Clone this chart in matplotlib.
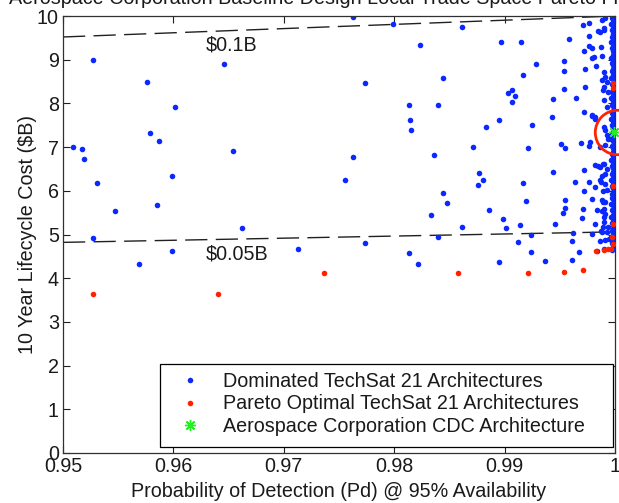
import matplotlib
matplotlib.use("Agg")
import matplotlib.pyplot as plt
from matplotlib.lines import Line2D
from matplotlib.patches import Rectangle

plt.rcParams['font.family'] = ['Liberation Sans', 'DejaVu Sans']

# ---------------- data ----------------
title = "Aerospace Corporation Baseline Design Local Trade Space Pareto Frontier"
x_label = "Probability of Detection (Pd) @ 95% Availability"
y_label = "10 Year Lifecycle Cost ($B)"
x_ticks = [0.95, 0.96, 0.97, 0.98, 0.99, 1.0]
x_tick_labels = ["0.95", "0.96", "0.97", "0.98", "0.99", "1"]
y_ticks = [0, 1, 2, 3, 4, 5, 6, 7, 8, 9, 10]
legend_labels = ["Dominated TechSat 21 Architectures",
                 "Pareto Optimal TechSat 21 Architectures",
                 "Aerospace Corporation CDC Architecture"]

# dominated architectures (scattered)
dom_x = [0.9509, 0.9517, 0.9519, 0.9527, 0.9527, 0.9531, 0.9547, 0.9569, 0.9576, 0.9579,
         0.9585, 0.9587, 0.9599, 0.9599, 0.9601, 0.9646, 0.9654, 0.9662, 0.9713,
         0.9755, 0.9763, 0.9763, 0.9774, 0.9774, 0.9799, 0.9813, 0.9813, 0.9814, 0.9815,
         0.9822, 0.9823, 0.9833, 0.9836, 0.9840, 0.9840, 0.9844, 0.9844, 0.9848, 0.9861,
         0.9861, 0.9871, 0.9876, 0.9877, 0.9880, 0.9883, 0.9886, 0.9895, 0.9895, 0.9897,
         0.9899, 0.9901, 0.9903, 0.9907, 0.9907, 0.9909, 0.9912, 0.9914, 0.9915, 0.9917,
         0.9917, 0.9919, 0.9921, 0.9924, 0.9924, 0.9925, 0.9928, 0.9937,
         0.9971, 0.9976, 0.9958, 0.9976, 0.9986, 0.9990, 0.9976, 0.9972, 0.9954, 0.9979,
         0.9988, 0.9954, 0.9973, 0.9983, 0.9954, 0.9973, 0.9989, 0.9944, 0.9965, 0.9943,
         0.9972, 0.9979, 0.9982, 0.9951, 0.9955, 0.9969, 0.9977, 0.9976, 0.9944, 0.9972,
         0.9985, 0.9989, 0.9964, 0.9976, 0.9986, 0.9987, 0.9972, 0.9989, 0.9955, 0.9955,
         0.9953, 0.9971, 0.9989, 0.9970, 0.9988, 0.9990, 0.9946, 0.9989, 0.9962, 0.9961,
         0.9987, 0.9979, 0.9988, 0.9993, 0.9986, 0.9991, 0.9995, 0.9967, 0.9961,
         0.9988, 0.9991, 0.9985, 0.9990, 0.9979, 0.9987, 0.9981, 0.9990, 0.9991, 0.9988,
         0.9993, 0.9990, 0.9994, 0.9990, 0.9993, 0.9979, 0.9982, 0.9990, 0.9991, 0.9993,
         0.9994, 0.9986, 0.9991, 0.9982, 0.9986, 0.9990, 0.9993, 0.9988, 0.9991, 0.9982,
         0.9991, 0.9993, 0.9979, 0.9988, 0.9991, 0.9984, 0.9990, 0.9991, 0.9982, 0.9990,
         0.9994, 0.9984, 0.9990]
dom_y = [7.01, 6.95, 6.72, 8.99, 4.92, 6.17, 5.53, 4.33, 8.49, 7.33,
         5.67, 7.13, 6.34, 4.63, 7.91, 8.90, 6.92, 5.14, 4.66,
         6.25, 9.98, 6.78, 8.47, 4.80, 9.81, 7.97, 4.57, 7.62, 7.39,
         4.33, 9.33, 5.44, 6.83, 7.97, 4.95, 8.58, 5.96, 5.73, 9.74,
         5.18, 7.01, 6.14, 6.40, 6.25, 7.45, 5.56, 7.62, 4.36, 9.40,
         5.35, 5.14, 8.23, 8.30, 8.03, 8.17, 4.83, 5.21, 9.40, 8.64,
         6.17, 5.76, 6.98, 4.98, 4.59, 7.50, 8.90, 4.40,
         9.79, 9.83, 9.48, 9.54, 9.63, 9.69, 9.31, 9.19, 8.98, 9.04,
         9.08, 8.73, 8.78, 8.85, 8.34, 8.37, 8.30, 8.09, 8.13, 7.68,
         7.80, 7.72, 7.68, 7.06, 6.99, 7.10, 7.12, 7.03, 6.43, 6.48,
         6.56, 6.62, 6.20, 6.19, 6.24, 6.19, 5.99, 5.99, 5.79, 5.60,
         5.50, 5.59, 5.75, 5.38, 5.53, 5.41, 5.23, 5.18, 5.03, 4.86,
         5.09, 5.02, 5.05, 5.05, 4.86, 4.88, 4.89, 4.59, 4.42,
         9.91, 9.95, 9.66, 9.72, 9.26, 9.30, 9.07, 8.72, 8.61, 8.53,
         8.49, 8.38, 8.26, 8.07, 7.92, 7.73, 7.65, 7.46, 7.39, 7.27,
         7.19, 7.00, 7.04, 6.58, 6.54, 6.62, 6.51, 6.35, 6.39, 6.08,
         6.16, 6.01, 5.82, 5.78, 5.74, 5.55, 5.59, 5.47, 5.25, 5.28,
         5.17, 4.63, 4.67]

# dominated architectures packed along Pd ~ 1
col_x = [0.9998, 0.9997, 0.9999, 0.9998, 0.9996, 0.9999, 0.9998, 0.9997, 0.9999, 0.9998,
         0.9997, 0.9999, 0.9998, 0.9996, 0.9998, 0.9999, 0.9997, 0.9998, 0.9999, 0.9998,
         0.9996, 0.9998, 0.9999, 0.9997, 0.9998, 0.9999, 0.9998, 0.9997, 0.9999, 0.9998,
         0.9996, 0.9998, 0.9999, 0.9997, 0.9998, 0.9999, 0.9998, 0.9997, 0.9999, 0.9998,
         0.9996, 0.9998, 0.9999, 0.9997, 0.9998, 0.9999, 0.9998, 0.9997, 0.9999, 0.9998,
         0.9996, 0.9998, 0.9999, 0.9997, 0.9998, 0.9999, 0.9998, 0.9997, 0.9999, 0.9998,
         0.9996, 0.9998, 0.9999, 0.9997, 0.9998, 0.9999, 0.9998, 0.9997, 0.9999, 0.9998,
         0.9996, 0.9998, 0.9999, 0.9997, 0.9998, 0.9999, 0.9998, 0.9997, 0.9999, 0.9998,
         0.9996, 0.9998, 0.9999, 0.9997, 0.9998, 0.9999, 0.9998, 0.9997]
col_y = [9.99, 9.95, 9.90, 9.86, 9.81, 9.77, 9.73, 9.67, 9.63, 9.58,
         9.53, 9.50, 9.44, 9.40, 9.35, 9.29, 9.26, 9.20, 9.16, 9.10,
         9.05, 9.01, 8.96, 8.93, 8.87, 8.82, 8.79, 8.73, 8.69, 8.64,
         8.58, 8.55, 8.50, 8.44, 8.41, 8.35, 8.31, 8.25, 8.21, 8.16,
         8.12, 8.06, 8.02, 7.97, 7.93, 7.88, 7.83, 7.79, 7.74, 7.70,
         7.64, 7.60, 7.56, 7.50, 7.46, 7.41, 7.37, 7.31, 7.27, 7.22,
         7.18, 7.13, 7.08, 7.02, 6.99, 6.94, 6.88, 6.85, 6.80, 6.76,
         6.71, 6.66, 6.62, 6.57, 6.52, 6.48, 6.43, 6.38, 6.34, 6.29,
         6.24, 6.20, 6.15, 6.10, 6.06, 6.01, 5.96, 5.92]
col2_x = [0.9998, 0.9997, 0.9999, 0.9998, 0.9996, 0.9999, 0.9998, 0.9997, 0.9999, 0.9998,
          0.9996, 0.9998, 0.9999, 0.9997, 0.9998, 0.9999, 0.9998, 0.9997, 0.9999, 0.9998,
          0.9996, 0.9998, 0.9999, 0.9997, 0.9998, 0.9999, 0.9998, 0.9997]
col2_y = [5.87, 5.83, 5.78, 5.73, 5.69, 5.64, 5.59, 5.55, 5.50, 5.45,
          5.41, 5.36, 5.32, 5.27, 5.22, 5.18, 5.13, 5.09, 5.04, 4.99,
          4.95, 4.90, 4.86, 4.81, 4.77, 4.72, 4.68, 4.64]

# Pareto optimal architectures
par_x = [0.9527, 0.9640, 0.9736, 0.9858, 0.9921, 0.9954, 0.9971, 0.9983, 0.9990, 0.9994,
         0.9996, 0.9997, 0.9998, 0.9998, 0.9998, 0.9998, 0.9998]
par_y = [3.63, 3.63, 4.11, 4.13, 4.13, 4.15, 4.19, 4.63, 4.65, 4.66,
         4.67, 4.95, 5.25, 6.12, 8.36, 8.46, 4.79]

# Aerospace Corporation CDC point
cdc_x = [0.9999]
cdc_y = [7.35]
circle_x = [1.0002]
circle_y = [7.35]

# iso-cost reference lines
line_hi_x = [0.95, 1.0]
line_hi_y = [9.52, 10.0]
line_lo_x = [0.95, 1.0]
line_lo_y = [4.82, 5.06]
ann_hi = ("\\$0.1B", 0.9629, 9.33)
ann_lo = ("\\$0.05B", 0.9629, 4.55)

# ---------------- style ----------------
W, H = 619, 503
FS = 14.2
TXT = '#1a1a1a'
BLUE = '#0a28ff'
RED = '#ff2200'
GREEN = '#22ee22'
ASTERISK = (8, 2, 0)

fig = plt.figure(figsize=(W / 100, H / 100), dpi=100)
ax = fig.add_axes([63 / W, (H - 453) / H, (615 - 63) / W, (453 - 16) / H])

ax.plot(line_hi_x, line_hi_y, color='#202020', lw=1.0, linestyle=(0, (16, 6)), zorder=1)
ax.plot(line_lo_x, line_lo_y, color='#202020', lw=1.0, linestyle=(0, (16, 6)), zorder=1)

ax.plot(dom_x, dom_y, linestyle='none', marker='o', ms=4.0, mew=0, color=BLUE, zorder=2)
ax.plot(col_x, col_y, linestyle='none', marker='o', ms=4.0, mew=0, color=BLUE, zorder=2)
ax.plot(col2_x, col2_y, linestyle='none', marker='o', ms=4.0, mew=0, color=BLUE, zorder=2)
ax.plot(par_x, par_y, linestyle='none', marker='o', ms=4.0, mew=0, color=RED, zorder=3)
ax.plot(cdc_x, cdc_y, linestyle='none', marker=ASTERISK, ms=8, mew=1.0, color=GREEN,
        zorder=4, clip_on=False)
ax.plot(circle_x, circle_y, linestyle='none', marker='o', ms=32, mfc='none', mec=RED,
        mew=2.0, zorder=4, clip_on=False)

ax.text(ann_hi[1], ann_hi[2], ann_hi[0], fontsize=FS, color=TXT, ha='left', va='center')
ax.text(ann_lo[1], ann_lo[2], ann_lo[0], fontsize=FS, color=TXT, ha='left', va='center')

ax.set_xlim(0.95, 1.0)
ax.set_ylim(0, 10)
ax.set_xticks(x_ticks)
ax.set_xticklabels(x_tick_labels)
ax.set_yticks(y_ticks)
ax.tick_params(direction='in', length=5, width=0.8, top=True, right=True,
               labelsize=FS, labelcolor=TXT, color='#202020', pad=3)
for s in ax.spines.values():
    s.set_linewidth(0.9)
    s.set_color('#303030')

ax.set_xlabel(x_label, fontsize=FS, color=TXT, labelpad=4)
ax.set_ylabel(y_label, fontsize=FS, color=TXT, labelpad=0)

fig.text(339 / W, 1 - 4.5 / H, title, fontsize=FS, color=TXT, ha='center', va='baseline')

# legend box
rx0 = (160 - 63) / 552
ry0 = (453 - 447) / 437
rw = (613 - 160) / 552
rh = (447 - 364) / 437
ax.add_patch(Rectangle((rx0, ry0), rw, rh, transform=ax.transAxes, facecolor='white',
                       edgecolor='black', lw=0.9, zorder=5))
handles = [Line2D([], [], linestyle='none', marker='o', ms=4.0, mew=0, color=BLUE),
           Line2D([], [], linestyle='none', marker='o', ms=4.0, mew=0, color=RED),
           Line2D([], [], linestyle='none', marker=ASTERISK, ms=8, mew=1.0, color=GREEN)]
leg = ax.legend(handles, legend_labels, loc='upper left', bbox_to_anchor=(rx0, ry0 + rh),
                bbox_transform=ax.transAxes, borderaxespad=0, frameon=False,
                fontsize=FS, handlelength=2.25, handletextpad=0.55, borderpad=0.4,
                labelspacing=0.18)
leg.set_zorder(6)
for t in leg.get_texts():
    t.set_color(TXT)

fig.savefig('out.png', dpi=100)
